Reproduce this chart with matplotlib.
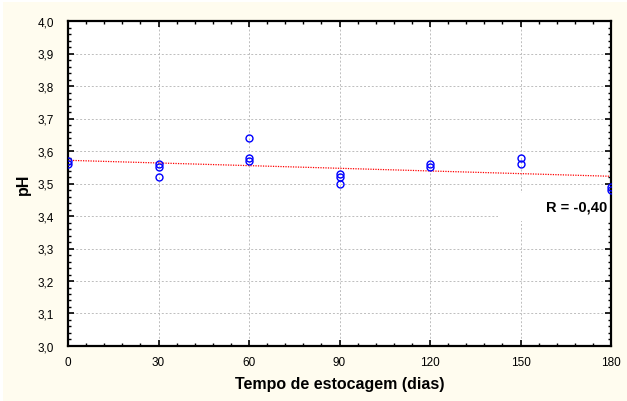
import numpy as np
import matplotlib
matplotlib.use('Agg')
import matplotlib.pyplot as plt
from matplotlib.patches import Rectangle
from matplotlib.ticker import MultipleLocator

plt.rcParams['font.family'] = ['Liberation Sans', 'DejaVu Sans']

# storage days and measured pH
days = [0, 0, 30, 30, 30, 60, 60, 60, 90, 90, 90, 120, 120, 150, 150, 180, 180]
ph = [3.57, 3.56, 3.56, 3.55, 3.52, 3.64, 3.58, 3.57, 3.53, 3.52, 3.50,
      3.56, 3.55, 3.58, 3.56, 3.49, 3.48]
r_label = 'R = -0,40'

x = np.array(days, dtype=float)
y = np.array(ph)
slope, intercept = np.polyfit(x, y, 1)

fig = plt.figure(figsize=(6.27, 4.02), dpi=100, facecolor='white')
fig.patches.append(Rectangle((3 / 627, 0), 1, 1 - 3 / 402, transform=fig.transFigure,
                             facecolor='#fffcef', edgecolor='none', zorder=-1))
ax = fig.add_axes([68 / 627, 55 / 402, 543 / 627, 325 / 402])
ax.set_facecolor('white')

# regression line
xl = np.array([0, 180])
ax.plot(xl, intercept + slope * xl, color='red', linestyle=(0, (1, 1)), linewidth=0.9, zorder=2)

ax.plot(x, y, linestyle='none', marker='o', markersize=5, markerfacecolor='none',
        markeredgecolor='#0000ff', markeredgewidth=1.0, zorder=3)

ax.set_xlim(0, 180)
ax.set_ylim(3.0, 4.0)
ax.xaxis.set_major_locator(MultipleLocator(30))
ax.xaxis.set_minor_locator(MultipleLocator(6))
ax.yaxis.set_major_locator(MultipleLocator(0.1))
ax.yaxis.set_minor_locator(MultipleLocator(0.02))
ax.yaxis.set_major_formatter(plt.FuncFormatter(lambda v, p: f'{v:.1f}'.replace('.', ',')))

ax.tick_params(which='both', direction='in', top=True, right=True, labelsize=8.5, colors='black')
ax.tick_params(which='major', length=4, width=1.2)
ax.tick_params(which='minor', length=2.5, width=1.0)
ax.tick_params(axis='x', pad=7)
ax.tick_params(axis='y', pad=10)
for s in ax.spines.values():
    s.set_linewidth(1.6)

ax.set_axisbelow(True)
ax.grid(True, which='major', color='#bdbdbd', linestyle=(0, (2, 2)), linewidth=0.7)

# white box behind the correlation label
ax.add_patch(Rectangle((0.792, 0.385), 0.208, 0.085, transform=ax.transAxes,
                       facecolor='white', edgecolor='none', zorder=1.5))
ax.text(0.993, 0.428, r_label, transform=ax.transAxes, ha='right', va='center',
        fontsize=10.5, fontweight='bold', zorder=4)

ax.set_xlabel('Tempo de estocagem (dias)', fontsize=11.5, fontweight='bold', labelpad=6)
ax.set_ylabel('pH', fontsize=11.5, fontweight='bold', labelpad=5)

fig.savefig('out.png', dpi=100, facecolor=fig.get_facecolor())
